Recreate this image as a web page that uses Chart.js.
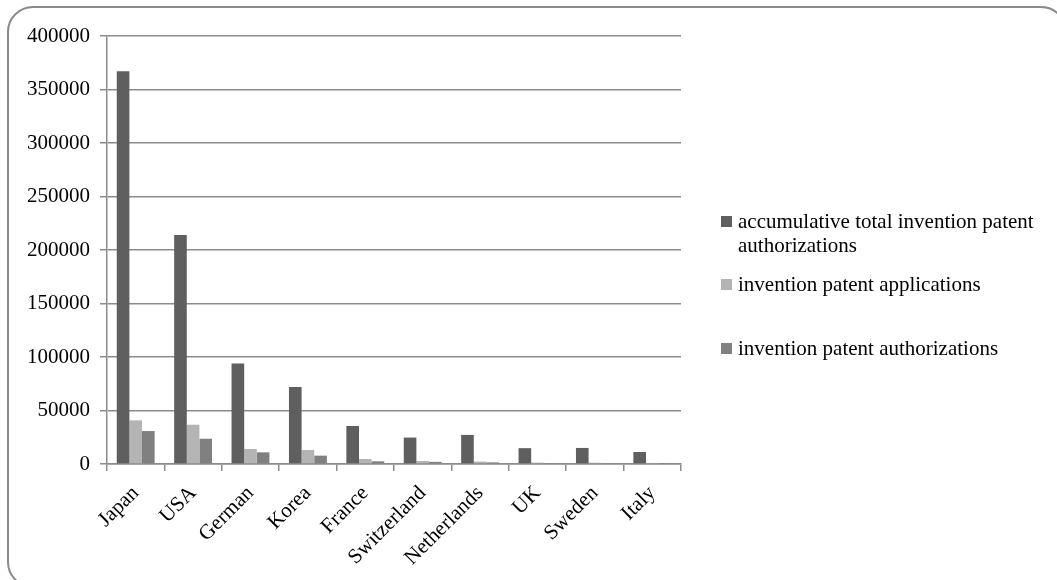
<!DOCTYPE html>
<html>
<head>
<meta charset="utf-8">
<script src="https://cdn.jsdelivr.net/npm/chart.js@4/dist/chart.umd.min.js"></script>
<style>
    html, body { margin: 0; padding: 0; background: #fff; overflow: hidden; }
    #wrap { position: relative; width: 1057px; height: 580px; overflow: hidden; }
    #frame {
        position: absolute; left: 7px; top: 6px; width: 1060px; height: 582px;
        border: 2px solid #8a8a8a; border-radius: 26px; box-sizing: border-box;
    }
    #grafica { position: absolute; left: 0; top: 0; }
    .llegenda {
        position: absolute; left: 721px; font-family: "Liberation Serif", "Times New Roman", serif;
        font-size: 21px; line-height: 24px; color: #000;
    }
    .llegenda span.caixa {
        position: absolute; left: 0; width: 11px; height: 11px;
    }
    .llegenda div.text { margin-left: 17px; white-space: nowrap; }
</style>
</head>
<body>
<div id="wrap">
    <div id="frame"></div>
    <canvas id="grafica" width="1057" height="580"></canvas>
    <div id="llegenda"></div>
</div>
<script>
const paisos = ['Japan', 'USA', 'German', 'Korea', 'France', 'Switzerland', 'Netherlands', 'UK', 'Sweden', 'Italy'];

const autoritzacionsAcumulades = [367000, 214000, 94000, 72000, 35500, 24700, 27200, 14800, 15000, 11200];
const solLicituds = [40800, 36700, 14000, 13100, 4700, 2800, 2300, 1300, 1200, 1000];
const autoritzacions = [30800, 23600, 10900, 7800, 2500, 2000, 1500, 800, 700, 500];

const nomsSeries = [
    ['accumulative total invention patent', 'authorizations'],
    ['invention patent applications'],
    ['invention patent authorizations']
];
const colors = ['#5f5f5f', '#b4b4b4', '#808080'];

const colorGraella = '#8c8c8c';
const lletra = { family: '"Liberation Serif", "Times New Roman", serif', size: 21 };

function pintarGrafica() {
    const ctx = document.getElementById('grafica').getContext('2d');

    new Chart(ctx, {
        type: 'bar',
        data: {
            labels: paisos,
            datasets: [autoritzacionsAcumulades, solLicituds, autoritzacions].map((dades, i) => ({
                label: nomsSeries[i].join(' '),
                data: dades,
                backgroundColor: colors[i],
                borderWidth: 0,
                categoryPercentage: 0.66,
                barPercentage: 1.0
            }))
        },
        options: {
            responsive: false,
            animation: false,
            devicePixelRatio: 1,
            layout: { padding: { left: 0, top: 36, right: 376, bottom: 0 } },
            plugins: {
                legend: { display: false },
                tooltip: { enabled: false }
            },
            scales: {
                x: {
                    offset: true,
                    grid: {
                        offset: true,
                        drawOnChartArea: false,
                        drawTicks: true,
                        tickLength: 7,
                        color: colorGraella,
                        lineWidth: 1.5
                    },
                    border: { color: colorGraella, width: 1.5 },
                    ticks: {
                        minRotation: 45,
                        maxRotation: 45,
                        padding: 10,
                        color: '#000',
                        font: lletra
                    },
                    afterFit: (scale) => { scale.height = 116; }
                },
                y: {
                    min: 0,
                    max: 400000,
                    grid: {
                        color: colorGraella,
                        lineWidth: 1.5,
                        tickLength: 7
                    },
                    border: { color: colorGraella, width: 1.5 },
                    ticks: {
                        stepSize: 50000,
                        padding: 10,
                        color: '#000',
                        font: lletra,
                        callback: (v) => String(v)
                    },
                    afterFit: (scale) => { scale.width = 107; }
                }
            }
        }
    });

    // llegenda a la dreta, amb el primer nom partit en dues línies
    const posicions = [209, 272, 336];
    const contenidor = document.getElementById('llegenda');
    nomsSeries.forEach((linies, i) => {
        const item = document.createElement('div');
        item.className = 'llegenda';
        item.style.top = posicions[i] + 'px';
        const caixa = document.createElement('span');
        caixa.className = 'caixa';
        caixa.style.background = colors[i];
        caixa.style.top = '7px';
        item.appendChild(caixa);
        linies.forEach(l => {
            const t = document.createElement('div');
            t.className = 'text';
            t.textContent = l;
            item.appendChild(t);
        });
        contenidor.appendChild(item);
    });
}

window.addEventListener('DOMContentLoaded', pintarGrafica);
</script>
</body>
</html>
